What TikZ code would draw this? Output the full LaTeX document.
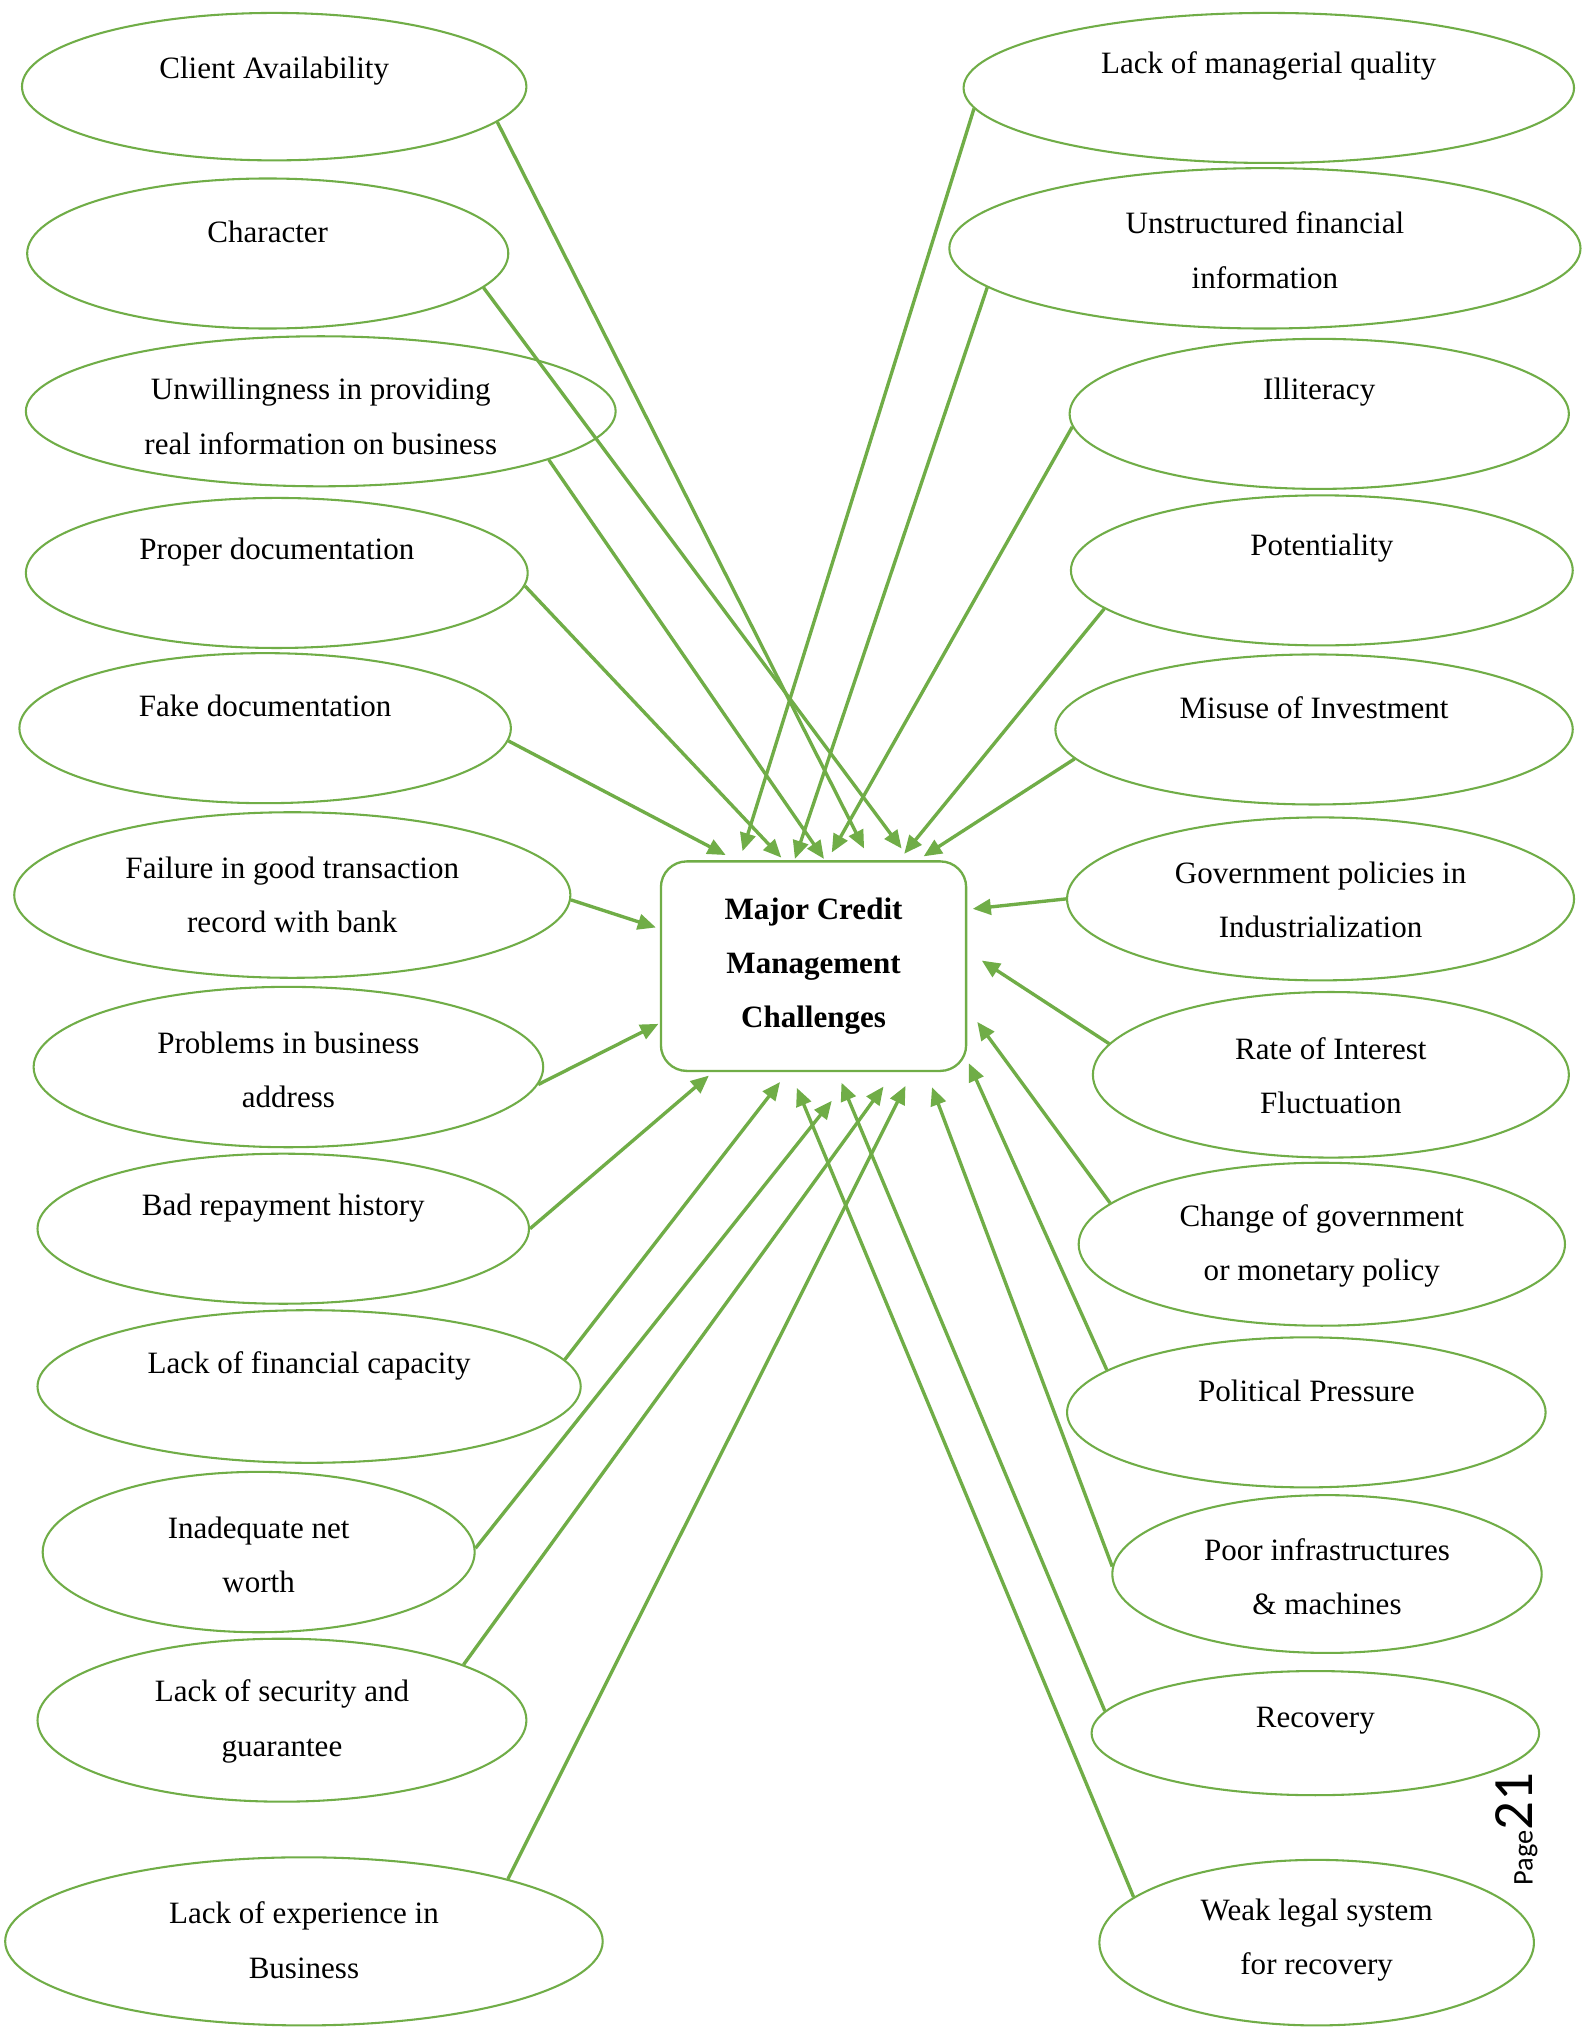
\documentclass[tikz,border=0pt]{standalone}
\usepackage{fontspec}
\setmainfont{Liberation Serif}
\newfontfamily\pagefont{Carlito}
\usetikzlibrary{shapes.geometric,arrows.meta,calc}
\definecolor{ogreen}{HTML}{70AD47}
\tikzset{
  ell/.style={draw=ogreen,line width=0.8pt,ellipse,inner sep=0pt},
  elsz/.style 2 args={minimum width=#1pt,minimum height=#2pt},
  txt/.style={font=\fontsize{12}{21}\selectfont,align=center,inner sep=0pt},
  arr/.style={draw=ogreen,line width=1.3pt,-{Triangle[length=7pt,width=6pt]}},
  mainbox/.style={draw=ogreen,line width=0.9pt,rounded corners=10pt,inner sep=0pt,
    minimum width=118pt,minimum height=81pt,align=center,
    font=\bfseries\fontsize{12}{21}\selectfont}
}
\begin{document}
\begin{tikzpicture}[x=0.5pt,y=-0.5pt]
\useasboundingbox (0,0) rectangle (1224,1568);
\fill[white] (0,0) rectangle (1224,1568);

% central box
\node[mainbox] (box) at (629,747) {Major Credit\\Management\\Challenges};

% left ellipses
\node[ell,elsz={195}{57}] (L1) at (212,67) {};
\node[txt] (t1) at (212,55) {Client Availability};
\node[ell,elsz={186}{58}] (L2) at (207,196) {};
\node[txt] (t2) at (207,179) {Character};
\node[ell,elsz={228}{58}] (L3) at (248,318) {};
\node[txt] (t3) at (248,322) {Unwillingness in providing\\real information on business};
\node[ell,elsz={194}{58}] (L4) at (214,443) {};
\node[txt] (t4) at (214,427) {Proper documentation};
\node[ell,elsz={190}{58}] (L5) at (205,563) {};
\node[txt] (t5) at (205,546) {Fake documentation};
\node[ell,elsz={215}{64}] (L6) at (226,692) {};
\node[txt] (t6) at (226,692) {Failure in good transaction\\record with bank};
\node[ell,elsz={197}{62}] (L7) at (223,825) {};
\node[txt] (t7) at (223,827) {Problems in business\\address};
\node[ell,elsz={190}{58}] (L8) at (219,950) {};
\node[txt] (t8) at (219,934) {Bad repayment history};
\node[ell,elsz={210}{59}] (L9) at (239,1072) {};
\node[txt] (t9) at (239,1056) {Lack of financial capacity};
\node[ell,elsz={167}{62}] (L10) at (200,1200) {};
\node[txt] (t10) at (200,1202) {Inadequate net\\worth};
\node[ell,elsz={189}{63}] (L11) at (218,1330) {};
\node[txt] (t11) at (218,1331) {Lack of security and\\guarantee};
\node[ell,elsz={231}{65}] (L12) at (235,1501) {};
\node[txt] (t12) at (235,1500) {Lack of experience in\\Business};

% right ellipses
\node[ell,elsz={236}{58}] (R1) at (981,68) {};
\node[txt] (s1) at (981,51) {Lack of managerial quality};
\node[ell,elsz={244}{62}] (R2) at (978,192) {};
\node[txt] (s2) at (978,193.5) {Unstructured financial\\information};
\node[ell,elsz={193}{58}] (R3) at (1020,320) {};
\node[txt] (s3) at (1020,303) {Illiteracy};
\node[ell,elsz={194}{58}] (R4) at (1022,441) {};
\node[txt] (s4) at (1022,424) {Potentiality};
\node[ell,elsz={200}{58}] (R5) at (1016,564) {};
\node[txt] (s5) at (1016,547) {Misuse of Investment};
\node[ell,elsz={196}{63}] (R6) at (1021,695) {};
\node[txt] (s6) at (1021,696) {Government policies in\\Industrialization};
\node[ell,elsz={184}{64}] (R7) at (1029,831) {};
\node[txt] (s7) at (1029,831.5) {Rate of Interest\\Fluctuation};
\node[ell,elsz={188}{63}] (R8) at (1022,962) {};
\node[txt] (s8) at (1022,963.5) {Change of government\\or monetary policy};
\node[ell,elsz={185}{58}] (R9) at (1010,1092) {};
\node[txt] (s9) at (1010,1075) {Political Pressure};
\node[ell,elsz={166}{61}] (R10) at (1026,1217) {};
\node[txt] (s10) at (1026,1219) {Poor infrastructures\\\& machines};
\node[ell,elsz={173}{48}] (R11) at (1017,1340) {};
\node[txt] (s11) at (1017,1330) {Recovery};
\node[ell,elsz={168}{64}] (R12) at (1018,1502) {};
\node[txt] (s12) at (1018,1500) {Weak legal system\\for recovery};

% page number
\node[rotate=90,anchor=base west,inner sep=0pt,font=\pagefont] (pg) at (1185,1458)
  {{\fontsize{11}{13}\selectfont Page}{\fontsize{22}{26}\selectfont 21}};

% connectors from left
\draw[arr] (L1.-9.25) -- ($(box.north west)+(158,-9)$);
\draw[arr] (L2.-9.46) -- ($(box.north west)+(187,-9)$);
\draw[arr] (L3.-12.2) -- ($(box.north west)+(127,-1)$);
\draw[arr] (L4.-3.6) -- ($(box.north west)+(94,-2)$);
\draw[arr] (L5.-3.65) -- ($(box.north west)+(51,-4)$);
\draw[arr] (L6.-1.3) -- ($(box.north west)+(-3,52)$);
\draw[arr] (L7.-4.5) -- ($(box.north west)+(-1,126.5)$);
\draw[arr] (L8.0.6) -- ($(box.north west)+(38,166.5)$);
\draw[arr] (L9.6.6) -- ($(box.north west)+(93,171.5)$);
\draw[arr] (L10.1) -- ($(box.north west)+(133,186)$);
\draw[arr] (L11.17.2) -- ($(box.north west)+(173,175)$);
\draw[arr] (L12.17.9) -- ($(box.north west)+(190,174.5)$);

% connectors from right
\draw[arr] (R1.184.6) -- ($(box.north west)+(64,-7)$);
\draw[arr] (R2.188.6) -- ($(box.north west)+(104.5,-1)$);
\draw[arr] (R3.183.3) -- ($(box.north west)+(133,-6)$);
\draw[arr] (R4.190.3) -- ($(box.north west)+(189,-5)$);
\draw[arr] (R5.187.4) -- ($(box.north west)+(204,-3)$);
\draw[arr] (R6.180.6) -- ($(box.north west)+(242,37.6)$);
\draw[arr] (R7.172.75) -- ($(box.north west)+(249,77.6)$);
\draw[arr] (R8.169.2) -- ($(box.north west)+(245.5,125)$);
\draw[arr] (R9.168.8) -- ($(box.north west)+(239,157)$);
\draw[arr] (R10.178.96) -- ($(box.north west)+(210.5,175.5)$);
\draw[arr] (R11.174.8) -- ($(box.north west)+(140.5,172)$);
\draw[arr] (R12.166.8) -- ($(box.north west)+(106,176)$);
\end{tikzpicture}
\end{document}
